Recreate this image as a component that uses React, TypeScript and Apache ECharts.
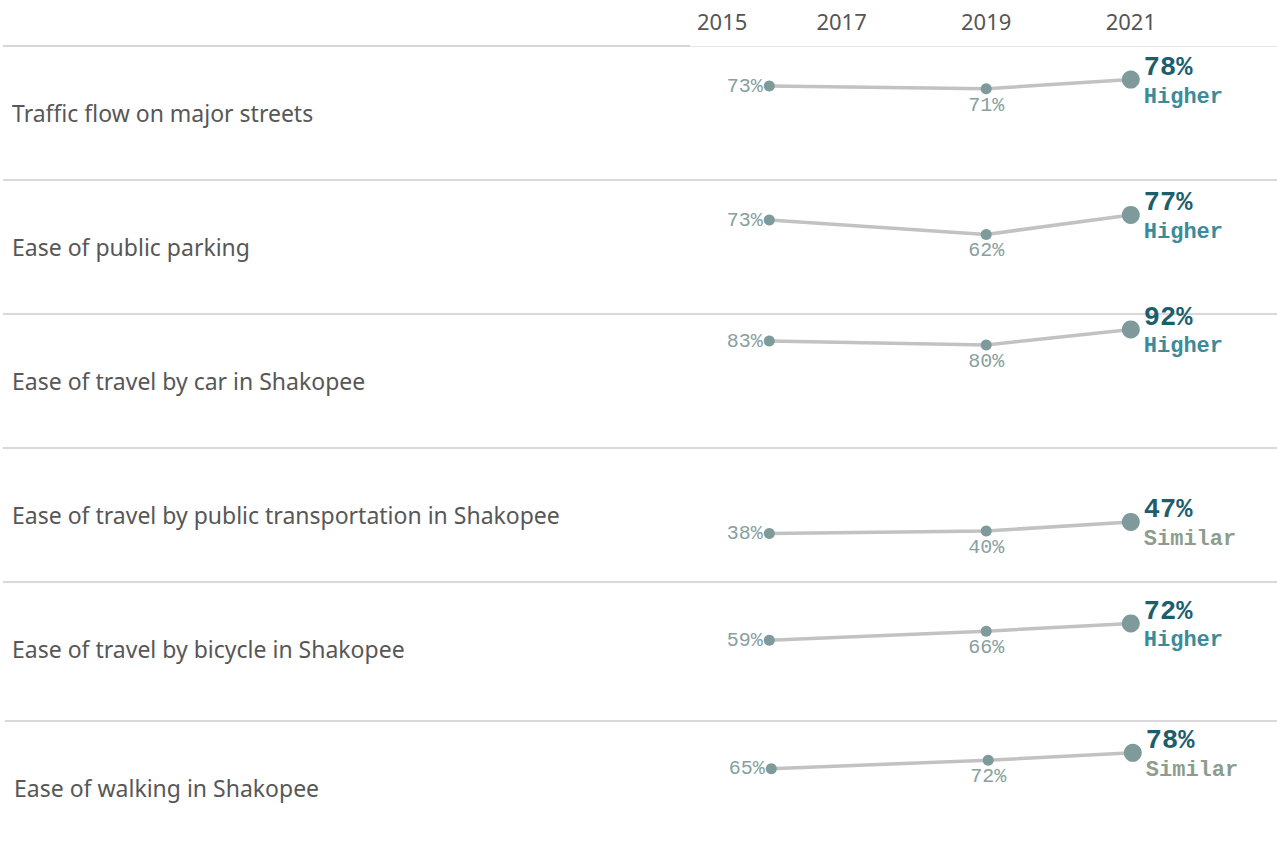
import React, { useEffect, useRef } from "react";
import * as echarts from "echarts";

const categories = [
  "Traffic flow on major streets",
  "Ease of public parking",
  "Ease of travel by car in Shakopee",
  "Ease of travel by public transportation in Shakopee",
  "Ease of travel by bicycle in Shakopee",
  "Ease of walking in Shakopee",
];
const years = [2016, 2019, 2021];
const headerTicks = [2015, 2017, 2019, 2021];
const values2016 = [73, 73, 83, 38, 59, 65];
const values2019 = [71, 62, 80, 40, 66, 72];
const values2021 = [78, 77, 92, 47, 72, 78];
const comparison = ["Higher", "Higher", "Higher", "Similar", "Higher", "Similar"];

const rowTops = [46, 180, 314, 448, 582, 721];
const rowShift = [0, 0, 0, 0, 0, 2];
const PX_PER_YEAR = 72.3;
const AXIS_LEFT = 697;

const MONO = '"Courier New", "Liberation Mono", monospace';
const SANS = '"Noto Sans", "Open Sans", sans-serif';

export default function App() {
  const ref = useRef<HTMLDivElement>(null);
  useEffect(() => {
    if (!ref.current) return;
    const chart = echarts.init(ref.current, null, { renderer: "svg" });
    const minYear = headerTicks[0];
    const maxYear = headerTicks[headerTicks.length - 1];
    const gridWidth = (maxYear - minYear) * PX_PER_YEAR;

    const grids: any[] = [
      { left: AXIS_LEFT, width: gridWidth, top: 35, height: 10 },
    ];
    const xAxes: any[] = [
      {
        type: "value",
        gridIndex: 0,
        min: minYear,
        max: maxYear,
        interval: 2,
        position: "top",
        axisLine: { show: false },
        axisTick: { show: false },
        splitLine: { show: false },
        axisLabel: {
          show: true,
          margin: 3,
          color: "#555555",
          fontFamily: SANS,
          fontSize: 22,
          showMinLabel: true,
          showMaxLabel: true,
          alignMinLabel: "left",
          formatter: (v: number) => String(v),
        },
      },
    ];
    const yAxes: any[] = [{ type: "value", gridIndex: 0, show: false }];
    const series: any[] = [];
    const graphics: any[] = [];

    categories.forEach((cat, i) => {
      const top = rowTops[i];
      grids.push({
        left: AXIS_LEFT + rowShift[i],
        width: gridWidth,
        top: top + 5,
        height: 130,
      });
      xAxes.push({
        type: "value",
        gridIndex: i + 1,
        min: minYear,
        max: maxYear,
        show: false,
      });
      yAxes.push({
        type: "value",
        gridIndex: i + 1,
        min: 0,
        max: 100,
        show: false,
      });
      const vals = [values2016[i], values2019[i], values2021[i]];
      series.push({
        type: "line",
        xAxisIndex: i + 1,
        yAxisIndex: i + 1,
        silent: true,
        lineStyle: { color: "#c2c2c2", width: 3.5 },
        itemStyle: { color: "#7f9a9a" },
        symbol: "circle",
        data: years.map((y, j) => {
          const last = j === years.length - 1;
          return {
            value: [y, vals[j]],
            symbolSize: last ? 18 : 11,
            label: last
              ? {
                  show: true,
                  position: "right",
                  distance: 4,
                  offset: [0, 3],
                  formatter: `{v|${vals[j]}%}\n{c|${comparison[i]}}`,
                  rich: {
                    v: {
                      fontFamily: MONO,
                      fontWeight: "bold",
                      fontSize: 27,
                      color: "#1d5e6d",
                      lineHeight: 29,
                    },
                    c: {
                      fontFamily: MONO,
                      fontWeight: "bold",
                      fontSize: 22,
                      color: comparison[i] === "Higher" ? "#3c8b9a" : "#8d9d8d",
                      lineHeight: 29,
                    },
                  },
                }
              : {
                  show: true,
                  position: j === 0 ? "left" : "bottom",
                  distance: 1,
                  formatter: `${vals[j]}%`,
                  fontFamily: MONO,
                  fontSize: 20,
                  color: "#88a0a0",
                },
          };
        }),
      });
      graphics.push({
        type: "text",
        left: 12 + rowShift[i],
        top: top + 68 - 13,
        style: {
          text: cat,
          fontFamily: SANS,
          fontSize: 23,
          fill: "#575757",
        },
      });
    });

    // header separator
    graphics.push({
      type: "line",
      shape: { x1: 3, y1: 46, x2: 690, y2: 46 },
      style: { stroke: "#d6d6d6", lineWidth: 2 },
    });
    graphics.push({
      type: "line",
      shape: { x1: 690, y1: 46.5, x2: 1277, y2: 46.5 },
      style: { stroke: "#e6e6e6", lineWidth: 1 },
    });
    rowTops.slice(1).forEach((y, k) => {
      graphics.push({
        type: "line",
        shape: { x1: 3 + rowShift[k + 1], y1: y, x2: 1277, y2: y },
        style: { stroke: "#d9d9d9", lineWidth: 2 },
      });
    });

    chart.setOption({
      animation: false,
      backgroundColor: "#ffffff",
      grid: grids,
      xAxis: xAxes,
      yAxis: yAxes,
      series,
      graphic: graphics,
    });
    return () => chart.dispose();
  }, []);
  return (
    <div
      ref={ref}
      style={{ position: "fixed", left: 0, top: 0, width: 1277, height: 848, background: "#fff" }}
    />
  );
}
